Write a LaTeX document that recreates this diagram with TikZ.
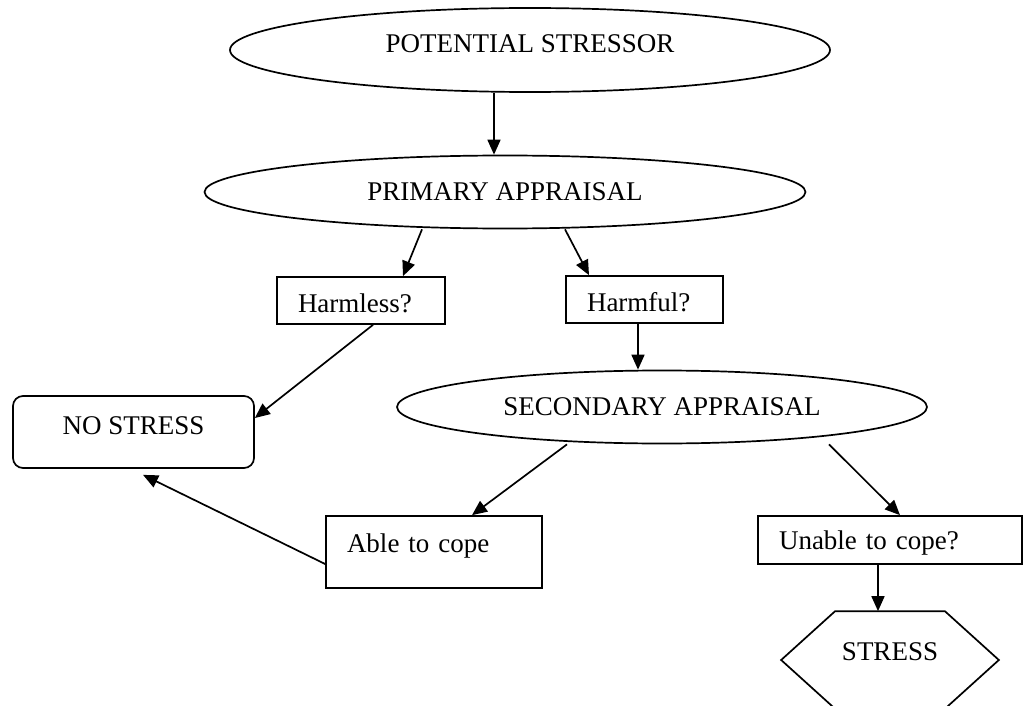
\documentclass[tikz,border=0pt]{standalone}
\usepackage{fontspec}
\setmainfont{Liberation Serif}
\usetikzlibrary{shapes.geometric,arrows.meta}
\begin{document}
\begin{tikzpicture}[x=1pt,y=-1pt,
  every node/.style={font=\fontsize{27}{31}\selectfont, line width=1.7pt},
  oval/.style={draw, ellipse, inner sep=0pt},
  qbox/.style={draw, rectangle, inner xsep=21pt, inner ysep=0pt, align=left},
  endbox/.style={draw, rectangle, rounded corners=10pt, inner sep=0pt},
  arr/.style={line width=1.7pt, -{Triangle[length=15pt,width=13pt]}},
]
\useasboundingbox (0,0) rectangle (1023,706);

% appraisal stages
\node[oval, minimum width=600pt, minimum height=84pt, text height=18pt, text depth=12pt]
  (e1) at (530,50) {POTENTIAL STRESSOR};
\node[oval, minimum width=601pt, minimum height=73pt]
  (e2) at (505,192) {PRIMARY APPRAISAL};
\node[oval, minimum width=530pt, minimum height=73pt]
  (e3) at (662,407) {SECONDARY APPRAISAL};

% questions
\node[qbox, text width=126pt, minimum height=47pt, text height=30pt, text depth=6pt]
  (harmless) at (361,300.5) {Harmless?};
\node[qbox, text width=115pt, minimum height=47pt, text height=30pt, text depth=6pt]
  (harmful) at (644.5,299.5) {Harmful?};
\node[qbox, text width=174pt, minimum height=72pt, text height=18pt, text depth=18pt]
  (able) at (434,552) {Able to cope};
\node[qbox, text width=222pt, minimum height=48pt, text height=24pt, text depth=6pt]
  (unable) at (890,540) {Unable to cope?};

% outcomes
\node[endbox, minimum width=241pt, minimum height=72pt, text height=17pt, text depth=13pt]
  (nostress) at (133.5,432) {NO STRESS};
\node[inner sep=0pt, minimum width=216pt, minimum height=96pt, text height=17pt, text depth=17pt]
  (stress) at (890,660) {STRESS};
\draw[line width=1.7pt]
  ([xshift=54pt]stress.north west) -- ([xshift=-54pt]stress.north east) -- (stress.east)
  -- ([xshift=-54pt]stress.south east) -- ([xshift=54pt]stress.south west) -- (stress.west) -- cycle;

% connectors
\draw[arr] ([xshift=-36pt]e1.south) -- ([xshift=-11pt]e2.north);
\draw[arr] ([xshift=-83pt]e2.south) -- ([xshift=42pt]harmless.north);
\draw[arr] ([xshift=60pt]e2.south) -- ([xshift=-55.5pt]harmful.north);
\draw[arr] ([xshift=12pt]harmless.south) -- ([yshift=14pt]nostress.east);
\draw[arr] ([xshift=-6.5pt]harmful.south) -- ([xshift=-24pt]e3.north);
\draw[arr] ([xshift=-95pt]e3.south) -- ([xshift=38pt]able.north);
\draw[arr] ([xshift=167pt]e3.south) -- ([xshift=10pt]unable.north);
\draw[arr] ([xshift=-12pt]unable.south) -- ([xshift=-12pt]stress.north);
\draw[arr] ([yshift=-12pt]able.west) -- ([xshift=9.5pt,yshift=-6pt]nostress.south);
\end{tikzpicture}
\end{document}
